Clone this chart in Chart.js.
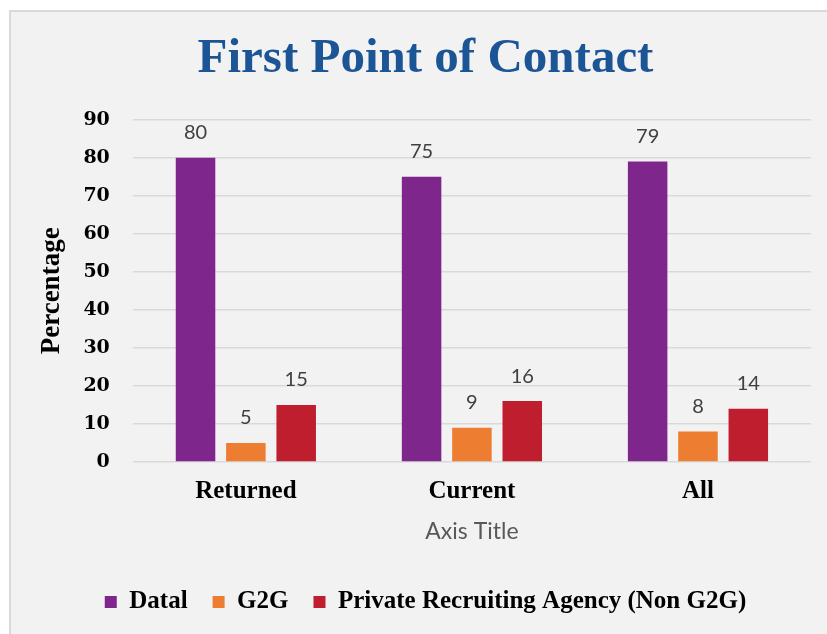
<!DOCTYPE html>
<html>
<head>
<meta charset="utf-8">
<script src="https://cdn.jsdelivr.net/npm/chart.js@4"></script>
<style>
  html, body { margin: 0; padding: 0; background: #ffffff; }
  #frame {
    position: absolute; left: 9px; top: 10px; width: 830px; height: 640px;
    background: #f2f2f2; border: 2px solid #d9d9d9;
  }
  #wrap { position: absolute; left: 0; top: 0; width: 827px; height: 634px; }
</style>
</head>
<body>
<div id="frame"></div>
<div id="wrap"><canvas id="chart" width="827" height="634"></canvas></div>
<script>
const categories = ['Returned', 'Current', 'All'];
const datal = [80, 75, 79];
const g2g = [5, 9, 8];
const privateAgency = [15, 16, 14];
const seriesNames = ['Datal', 'G2G', 'Private Recruiting Agency (Non G2G)'];

const serif = "'Liberation Serif', serif";
const heavySerif = "'DejaVu Serif', serif";
const sans = "Lato, 'Open Sans', sans-serif";

// value labels above each bar
const barLabels = {
  id: 'barLabels',
  afterDatasetsDraw(chart) {
    const ctx = chart.ctx;
    ctx.save();
    ctx.font = '20px ' + sans;
    ctx.fillStyle = '#404040';
    ctx.textAlign = 'center';
    ctx.textBaseline = 'middle';
    chart.data.datasets.forEach((ds, i) => {
      chart.getDatasetMeta(i).data.forEach((bar, j) => {
        ctx.fillText(ds.data[j], bar.x, bar.y - 25);
      });
    });
    ctx.restore();
  }
};

new Chart(document.getElementById('chart'), {
  type: 'bar',
  data: {
    labels: categories,
    datasets: [
      { label: seriesNames[0], data: datal, backgroundColor: '#7e268b' },
      { label: seriesNames[1], data: g2g, backgroundColor: '#ed7d31' },
      { label: seriesNames[2], data: privateAgency, backgroundColor: '#bf1e2e' }
    ]
  },
  options: {
    responsive: false,
    animation: false,
    categoryPercentage: 0.668,
    barPercentage: 0.785,
    layout: { padding: { left: 40, right: 16, top: 0, bottom: 9.5 } },
    plugins: {
      title: {
        display: true,
        text: 'First Point of Contact',
        color: '#1c5596',
        font: { family: serif, size: 49, weight: 'bold' },
        padding: { top: 30, bottom: 31 }
      },
      legend: {
        position: 'bottom',
        labels: {
          boxWidth: 12,
          boxHeight: 12,
          padding: 25,
          color: '#000000',
          font: { family: serif, size: 25, weight: 'bold' }
        }
      },
      tooltip: { enabled: false }
    },
    scales: {
      x: {
        grid: { display: false, drawTicks: false },
        border: { display: false },
        ticks: { color: '#000000', padding: 15, font: { family: serif, size: 25, weight: 'bold' } },
        title: {
          display: true,
          text: 'Axis Title',
          color: '#595959',
          font: { family: sans, size: 23 },
          padding: { top: -4, bottom: 19 }
        }
      },
      y: {
        min: 0,
        max: 90,
        ticks: { stepSize: 10, color: '#000000', padding: 23, font: { family: heavySerif, size: 19, weight: 'bold' } },
        grid: { color: '#d9d9d9', lineWidth: 1.5, drawTicks: false },
        border: { display: false },
        title: {
          display: true,
          text: 'Percentage',
          color: '#000000',
          font: { family: serif, size: 27, weight: 'bold' },
          padding: { top: -4, bottom: -8 }
        }
      }
    }
  },
  plugins: [barLabels]
});
</script>
</body>
</html>
